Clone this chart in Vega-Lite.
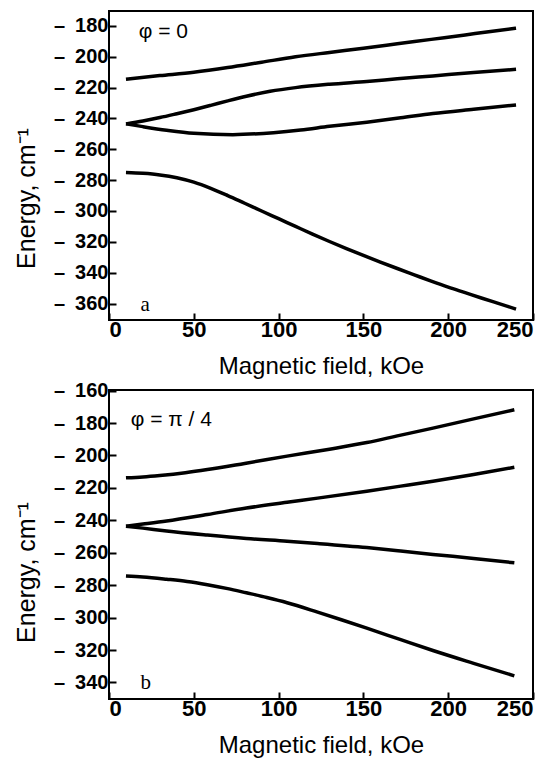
{
  "$schema": "https://vega.github.io/schema/vega-lite/v6.json",
  "background": "white",
  "padding": {"left": 13, "top": 10, "right": 0, "bottom": 0},
  "spacing": 70,
  "bounds": "flush",
  "config": {
    "font": "Liberation Sans",
    "view": {"stroke": "black", "strokeWidth": 2},
    "axis": {
      "grid": false,
      "domain": false,
      "tickColor": "black",
      "tickWidth": 2,
      "tickSize": -7,
      "labelColor": "black",
      "titleColor": "black",
      "labelFont": "Liberation Sans",
      "labelFontWeight": "bold",
      "labelBound": false,
      "titleFont": "Liberation Sans",
      "titleFontWeight": "normal"
    }
  },
  "datasets": {
    "a": [
      {"H": 10, "E": -214.5, "branch": 1}, {"H": 30, "E": -212.2, "branch": 1}, {"H": 50, "E": -210.0, "branch": 1},
      {"H": 70, "E": -207.0, "branch": 1}, {"H": 90, "E": -203.5, "branch": 1}, {"H": 110, "E": -200.0, "branch": 1},
      {"H": 130, "E": -197.2, "branch": 1}, {"H": 150, "E": -194.5, "branch": 1}, {"H": 170, "E": -191.6, "branch": 1},
      {"H": 190, "E": -188.7, "branch": 1}, {"H": 210, "E": -185.8, "branch": 1}, {"H": 225, "E": -183.6, "branch": 1},
      {"H": 240, "E": -181.5, "branch": 1},
      {"H": 10, "E": -243.5, "branch": 2}, {"H": 20, "E": -241.6, "branch": 2}, {"H": 30, "E": -239.4, "branch": 2},
      {"H": 40, "E": -236.9, "branch": 2}, {"H": 50, "E": -234.3, "branch": 2}, {"H": 60, "E": -231.5, "branch": 2},
      {"H": 70, "E": -228.6, "branch": 2}, {"H": 81, "E": -225.6, "branch": 2}, {"H": 95, "E": -222.4, "branch": 2},
      {"H": 110, "E": -220.0, "branch": 2}, {"H": 130, "E": -217.8, "branch": 2}, {"H": 152, "E": -216.0, "branch": 2},
      {"H": 170, "E": -214.3, "branch": 2}, {"H": 191, "E": -212.4, "branch": 2}, {"H": 215, "E": -210.2, "branch": 2},
      {"H": 240, "E": -208.1, "branch": 2},
      {"H": 10, "E": -243.5, "branch": 3}, {"H": 20, "E": -245.3, "branch": 3}, {"H": 34, "E": -247.6, "branch": 3},
      {"H": 50, "E": -249.6, "branch": 3}, {"H": 73, "E": -250.5, "branch": 3}, {"H": 97, "E": -249.2, "branch": 3},
      {"H": 113, "E": -247.5, "branch": 3}, {"H": 130, "E": -245.1, "branch": 3}, {"H": 152, "E": -242.4, "branch": 3},
      {"H": 172, "E": -239.6, "branch": 3}, {"H": 191, "E": -236.8, "branch": 3}, {"H": 215, "E": -234.0, "branch": 3},
      {"H": 240, "E": -231.2, "branch": 3},
      {"H": 10, "E": -275.1, "branch": 4}, {"H": 20, "E": -275.6, "branch": 4}, {"H": 30, "E": -276.6, "branch": 4},
      {"H": 40, "E": -278.4, "branch": 4}, {"H": 50, "E": -281.3, "branch": 4}, {"H": 60, "E": -285.3, "branch": 4},
      {"H": 70, "E": -290.0, "branch": 4}, {"H": 80, "E": -295.0, "branch": 4}, {"H": 90, "E": -300.0, "branch": 4},
      {"H": 100, "E": -305.0, "branch": 4}, {"H": 110, "E": -310.0, "branch": 4}, {"H": 120, "E": -315.0, "branch": 4},
      {"H": 130, "E": -319.8, "branch": 4}, {"H": 140, "E": -324.4, "branch": 4}, {"H": 150, "E": -328.8, "branch": 4},
      {"H": 160, "E": -333.1, "branch": 4}, {"H": 170, "E": -337.3, "branch": 4}, {"H": 180, "E": -341.4, "branch": 4},
      {"H": 190, "E": -345.5, "branch": 4}, {"H": 200, "E": -349.4, "branch": 4}, {"H": 210, "E": -353.0, "branch": 4},
      {"H": 220, "E": -356.6, "branch": 4}, {"H": 230, "E": -360.1, "branch": 4}, {"H": 240, "E": -363.6, "branch": 4}
    ],
    "b": [
      {"H": 10, "E": -213.8, "branch": 1}, {"H": 20, "E": -213.2, "branch": 1}, {"H": 30, "E": -212.3, "branch": 1},
      {"H": 45, "E": -210.6, "branch": 1}, {"H": 58, "E": -208.7, "branch": 1}, {"H": 80, "E": -204.9, "branch": 1},
      {"H": 105, "E": -200.4, "branch": 1}, {"H": 130, "E": -196.1, "branch": 1}, {"H": 152, "E": -192.0, "branch": 1},
      {"H": 170, "E": -187.9, "branch": 1}, {"H": 191, "E": -183.1, "branch": 1}, {"H": 215, "E": -177.4, "branch": 1},
      {"H": 239, "E": -171.8, "branch": 1},
      {"H": 10, "E": -243.6, "branch": 2}, {"H": 20, "E": -242.3, "branch": 2}, {"H": 34, "E": -240.4, "branch": 2},
      {"H": 58, "E": -236.4, "branch": 2}, {"H": 81, "E": -232.4, "branch": 2}, {"H": 105, "E": -228.9, "branch": 2},
      {"H": 123, "E": -226.3, "branch": 2}, {"H": 152, "E": -222.0, "branch": 2}, {"H": 172, "E": -218.9, "branch": 2},
      {"H": 191, "E": -215.9, "branch": 2}, {"H": 215, "E": -211.7, "branch": 2}, {"H": 239, "E": -207.3, "branch": 2},
      {"H": 10, "E": -243.6, "branch": 3}, {"H": 20, "E": -244.8, "branch": 3}, {"H": 34, "E": -246.6, "branch": 3},
      {"H": 58, "E": -249.1, "branch": 3}, {"H": 81, "E": -251.2, "branch": 3}, {"H": 105, "E": -252.9, "branch": 3},
      {"H": 123, "E": -254.3, "branch": 3}, {"H": 152, "E": -256.8, "branch": 3}, {"H": 172, "E": -258.9, "branch": 3},
      {"H": 191, "E": -261.0, "branch": 3}, {"H": 215, "E": -263.5, "branch": 3}, {"H": 239, "E": -266.2, "branch": 3},
      {"H": 10, "E": -274.3, "branch": 4}, {"H": 20, "E": -274.9, "branch": 4}, {"H": 34, "E": -276.3, "branch": 4},
      {"H": 46, "E": -277.7, "branch": 4}, {"H": 58, "E": -279.7, "branch": 4}, {"H": 70, "E": -282.1, "branch": 4},
      {"H": 81, "E": -284.7, "branch": 4}, {"H": 93, "E": -287.6, "branch": 4}, {"H": 105, "E": -290.8, "branch": 4},
      {"H": 123, "E": -296.6, "branch": 4}, {"H": 137, "E": -301.3, "branch": 4}, {"H": 152, "E": -306.5, "branch": 4},
      {"H": 172, "E": -313.6, "branch": 4}, {"H": 191, "E": -320.3, "branch": 4}, {"H": 215, "E": -328.2, "branch": 4},
      {"H": 239, "E": -335.9, "branch": 4}
    ]
  },
  "vconcat": [
    {
      "width": 424,
      "height": 309,
      "layer": [
        {
          "data": {"name": "a"},
          "mark": {"type": "line", "color": "black", "strokeWidth": 3.5, "interpolate": "monotone"},
          "encoding": {
            "x": {
              "field": "H", "type": "quantitative",
              "scale": {"domain": [0, 250], "nice": false},
              "axis": {
                "values": [0, 50, 100, 150, 200, 250],
                "tickCount": 20,
                "labelOverlap": false,
                "labelFontSize": 22, "labelPadding": 6,
                "title": "Magnetic field, kOe", "titleFontSize": 24,
                "titleBaseline": "alphabetic", "titleY": 53
              }
            },
            "y": {
              "field": "E", "type": "quantitative",
              "scale": {"domain": [-370.7, -170.3], "nice": false, "zero": false},
              "axis": {
                "values": [-180, -200, -220, -240, -260, -280, -300, -320, -340, -360],
                "tickCount": 20,
                "labelOverlap": false,
                "labelExpr": "'–\u2002' + abs(datum.value)",
                "labelFontSize": 20, "labelPadding": 8,
                "title": "Energy, cm⁻¹", "titleFontSize": 25,
                "titleAngle": 270, "titleBaseline": "alphabetic", "titleAlign": "center",
                "titleX": -75, "titleY": 187
              }
            },
            "detail": {"field": "branch", "type": "nominal"}
          }
        },
        {
          "data": {"values": [{"label": "φ = 0"}]},
          "mark": {"type": "text", "align": "left", "baseline": "middle", "fontSize": 21, "color": "black", "font": "Liberation Sans"},
          "encoding": {"x": {"datum": 17.5}, "y": {"datum": -184}, "text": {"field": "label"}}
        },
        {
          "data": {"values": [{"label": "a"}]},
          "mark": {"type": "text", "align": "left", "baseline": "alphabetic", "fontSize": 21, "color": "black", "font": "Liberation Serif"},
          "encoding": {"x": {"datum": 18.5}, "y": {"datum": -364.7}, "text": {"field": "label"}}
        }
      ]
    },
    {
      "width": 424,
      "height": 309,
      "layer": [
        {
          "data": {"name": "b"},
          "mark": {"type": "line", "color": "black", "strokeWidth": 3.5, "interpolate": "monotone"},
          "encoding": {
            "x": {
              "field": "H", "type": "quantitative",
              "scale": {"domain": [0, 250], "nice": false},
              "axis": {
                "values": [0, 50, 100, 150, 200, 250],
                "tickCount": 20,
                "labelOverlap": false,
                "labelFontSize": 22, "labelPadding": 6,
                "title": "Magnetic field, kOe", "titleFontSize": 24,
                "titleBaseline": "alphabetic", "titleY": 53
              }
            },
            "y": {
              "field": "E", "type": "quantitative",
              "scale": {"domain": [-350.2, -159.6], "nice": false, "zero": false},
              "axis": {
                "values": [-160, -180, -200, -220, -240, -260, -280, -300, -320, -340],
                "tickCount": 20,
                "labelOverlap": false,
                "labelExpr": "'–\u2002' + abs(datum.value)",
                "labelFontSize": 20, "labelPadding": 8,
                "title": "Energy, cm⁻¹", "titleFontSize": 25,
                "titleAngle": 270, "titleBaseline": "alphabetic", "titleAlign": "center",
                "titleX": -75, "titleY": 182
              }
            },
            "detail": {"field": "branch", "type": "nominal"}
          }
        },
        {
          "data": {"values": [{"label": "φ = π / 4"}]},
          "mark": {"type": "text", "align": "left", "baseline": "middle", "fontSize": 21, "color": "black", "font": "Liberation Sans"},
          "encoding": {"x": {"datum": 12.8}, "y": {"datum": -178}, "text": {"field": "label"}}
        },
        {
          "data": {"values": [{"label": "b"}]},
          "mark": {"type": "text", "align": "left", "baseline": "alphabetic", "fontSize": 21, "color": "black", "font": "Liberation Serif"},
          "encoding": {"x": {"datum": 18.5}, "y": {"datum": -344.1}, "text": {"field": "label"}}
        }
      ]
    }
  ]
}
